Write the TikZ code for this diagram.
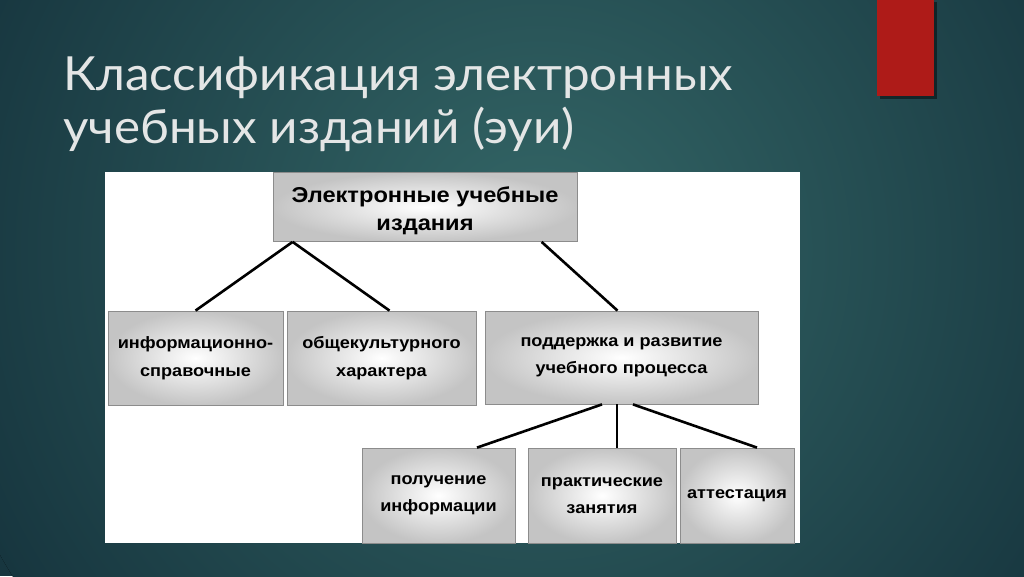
\documentclass[tikz,border=0pt]{standalone}
\usepackage{fontspec}
\usepackage{tikz}
\usetikzlibrary{positioning}
\newfontfamily\titlefont[FakeStretch=1.05]{Lato}
\newfontfamily\boxfont[FakeStretch=1.1]{Liberation Sans}
\definecolor{bgdark}{HTML}{17363F}
\definecolor{bglight}{HTML}{346767}
\definecolor{slidered}{HTML}{AE1B18}
\definecolor{titlegray}{HTML}{E4E6E6}

\begin{document}
\begin{tikzpicture}[x=1pt, y=-1pt, line width=2.6pt]
\tikzstyle{box}=[draw=black!45, line width=0.8pt, inner color=white, outer color=black!23, align=center, inner sep=0pt, text=black, font=\boxfont\bfseries\fontsize{16.5}{27.5}\selectfont]

\useasboundingbox (0,0) rectangle (1024,576);
\fill[bgdark] (0,0) rectangle (1024,576);
\begin{scope}
\clip (0,0) rectangle (1024,576);
\fill[inner color=bglight, outer color=bgdark] (540,250) circle (620);
\end{scope}

\fill[black, opacity=0.45] (880,2) rectangle (937,99);
\fill[slidered] (877,0) rectangle (934,96);

\node[anchor=base west, text=titlegray, font=\titlefont\fontsize{47}{53}\selectfont, inner sep=0pt] (t1) at (62,90) {Классификация электронных};
\node[anchor=base west, text=titlegray, font=\titlefont\fontsize{47}{53}\selectfont, inner sep=0pt] (t2) at (62,143) {учебных изданий (эуи)};

\fill[white] (105,172) rectangle (800,543);

\node[box, minimum width=304pt, minimum height=69pt] (0) at (425,207) {};
\node[align=center, inner sep=0pt, text=black, font=\boxfont\bfseries\fontsize{21.5}{27.5}\selectfont] (0t) at ([yshift=-4pt]0.center) {Электронные учебные\\издания};
\node[box, minimum width=175pt, minimum height=94pt] (1) at (195.5,358) {информационно-\\справочные};
\node[box, minimum width=189pt, minimum height=94pt] (2) at (381.5,358) {общекультурного\\характера};
\node[box, minimum width=273pt, minimum height=93pt] (3) at (621.5,357.5) {поддержка и развитие\\учебного процесса};
\node[box, minimum width=153pt, minimum height=95pt] (4) at (438.5,495.5) {получение\\информации};
\node[box, minimum width=148pt, minimum height=95pt] (5) at (602,495.5) {практические\\занятия};
\node[box, minimum width=114pt, minimum height=95pt] (6) at (737,495.5) {аттестация};

\path[draw=black]
	([xshift=20pt]0.south west)		edge	(1.north)
	([xshift=20pt]0.south west)		edge	([xshift=8pt]2.north)
	([xshift=269pt]0.south west)	edge	([xshift=-4pt]3.north)
	([xshift=-19.5pt]3.south)		edge	([xshift=38.5pt]4.north)
	([xshift=-4.5pt]3.south)		edge	([xshift=15pt]5.north)
	([xshift=11.5pt]3.south)		edge	([xshift=20pt]6.north)
;

\end{tikzpicture}
\end{document}
